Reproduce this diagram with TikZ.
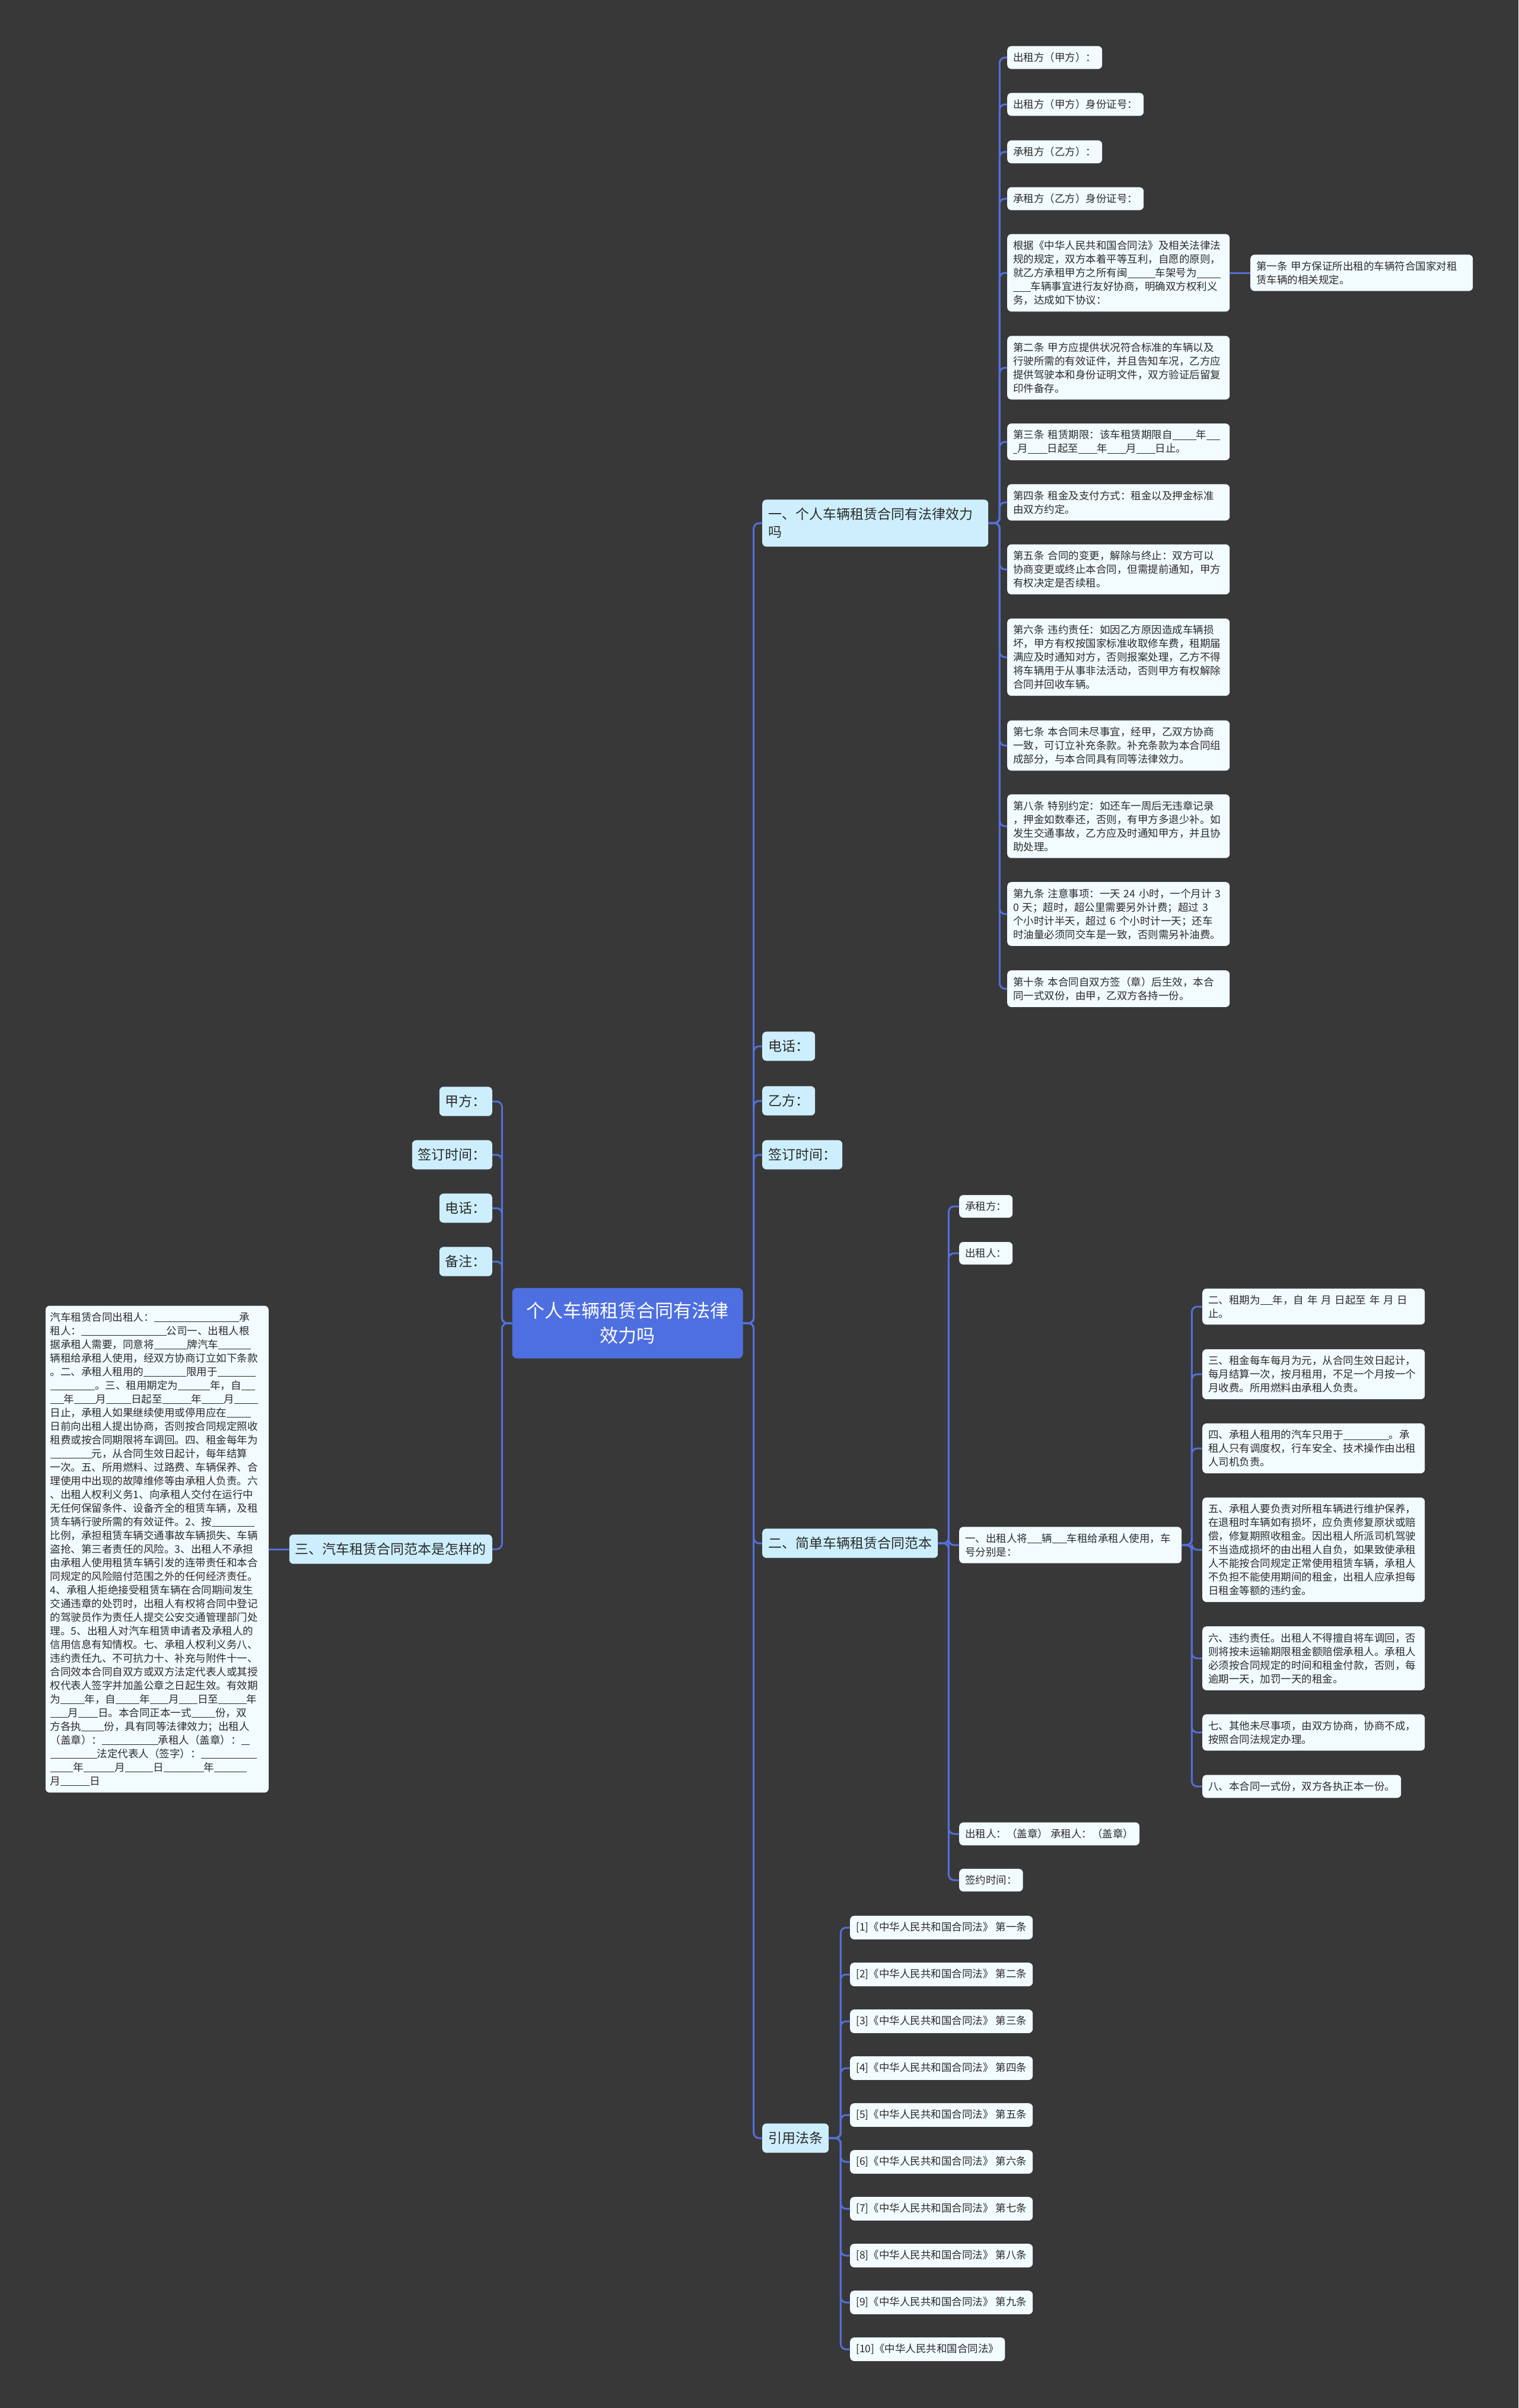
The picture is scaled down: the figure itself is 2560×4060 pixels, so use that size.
\documentclass[tikz,border=0pt]{standalone}
\usepackage{fontspec}
\setmainfont{Noto Sans CJK SC}
\usepackage{xcolor}
\usepackage{tikz}

\definecolor{bgdark}{HTML}{393839}
\definecolor{rootblue}{HTML}{4E6FE0}
\definecolor{topicfill}{HTML}{CDEFFD}
\definecolor{leaffill}{HTML}{F2FBFF}
\definecolor{connblue}{HTML}{5270D8}
\definecolor{textdark}{HTML}{2B2B2B}

\newcommand{\fillin}[1]{\rule[-0.12em]{#1em}{0.06em}}

\tikzset{
  root/.style={fill=rootblue,text=white,rounded corners=8,inner xsep=22,inner ysep=24,
    text width=345,align=center,font=\fontsize{31}{42}\selectfont},
  topic/.style={fill=topicfill,text=textdark,rounded corners=7,inner xsep=10,inner ysep=14,
    align=left,font=\fontsize{23}{30}\selectfont},
  leaf/.style={fill=leaffill,text=textdark,rounded corners=7,inner xsep=10,inner ysep=11,
    align=left,font=\fontsize{17.5}{23}\selectfont},
  wide/.style={leaf,text width=355},
  conn/.style={draw=connblue,line width=3,rounded corners=9}
}

\begin{document}
\begin{tikzpicture}[x=1pt,y=-1pt]
\fill[bgdark](0,0)rectangle(2560,4060);
\useasboundingbox(0,0)rectangle(2560,4060);

% centre
\node[root](root) at (1058,2231){个人车辆租赁合同有法律\\效力吗};

% right side, first level
\node[topic,anchor=west,text width=361](one) at (1285,882){一、个人车辆租赁合同有法律效力\\吗};
\node[topic,anchor=west](tel) at (1285,1764){电话：};
\node[topic,anchor=west](yi) at (1285,1856){乙方：};
\node[topic,anchor=west](sign) at (1285,1947){签订时间：};
\node[topic,anchor=west](two) at (1285,2602){二、简单车辆租赁合同范本};
\node[topic,anchor=west](law) at (1285,3605){引用法条};

% left side, first level
\node[topic,anchor=east](jia) at (830,1857){甲方：};
\node[topic,anchor=east](lsign) at (830,1947){签订时间：};
\node[topic,anchor=east](ltel) at (830,2037){电话：};
\node[topic,anchor=east](note) at (830,2127){备注：};
\node[topic,anchor=east](three) at (830,2612){三、汽车租赁合同范本是怎样的};

% branch one
\node[leaf,anchor=west](lessor) at (1698,97){出租方（甲方）：};
\node[leaf,anchor=west](lessorid) at (1698,176){出租方（甲方）身份证号：};
\node[leaf,anchor=west](lessee) at (1698,256){承租方（乙方）：};
\node[leaf,anchor=west](lesseeid) at (1698,335){承租方（乙方）身份证号：};
\node[wide,anchor=west](preamble) at (1698,460){根据《中华人民共和国合同法》及相关法律法\\规的规定，双方本着平等互利，自愿的原则，\\就乙方承租甲方之所有闽\fillin{2.7}车架号为\fillin{2.3}\\\fillin{1.7}车辆事宜进行友好协商，明确双方权利义\\务，达成如下协议：};
\node[wide,anchor=west](art1) at (2108,460){第一条~甲方保证所出租的车辆符合国家对租\\赁车辆的相关规定。};
\node[wide,anchor=west](art2) at (1698,620){第二条~甲方应提供状况符合标准的车辆以及\\行驶所需的有效证件，并且告知车况，乙方应\\提供驾驶本和身份证明文件，双方验证后留复\\印件备存。};
\node[wide,anchor=west](art3) at (1698,745){第三条~租赁期限：该车租赁期限自\fillin{2.3}年\fillin{1.3}\\\fillin{0.4}月\fillin{1.9}日起至\fillin{1.8}年\fillin{1.8}月\fillin{1.8}日止。};
\node[wide,anchor=west](art4) at (1698,847){第四条~租金及支付方式：租金以及押金标准\\由双方约定。};
\node[wide,anchor=west](art5) at (1698,960){第五条~合同的变更，解除与终止：双方可以\\协商变更或终止本合同，但需提前通知，甲方\\有权决定是否续租。};
\node[wide,anchor=west](art6) at (1698,1108){第六条~违约责任：如因乙方原因造成车辆损\\坏，甲方有权按国家标准收取修车费，租期届\\满应及时通知对方，否则报案处理，乙方不得\\将车辆用于从事非法活动，否则甲方有权解除\\合同并回收车辆。};
\node[wide,anchor=west](art7) at (1698,1257){第七条~本合同未尽事宜，经甲，乙双方协商\\一致，可订立补充条款。补充条款为本合同组\\成部分，与本合同具有同等法律效力。};
\node[wide,anchor=west](art8) at (1698,1393){第八条~特别约定：如还车一周后无违章记录\\，押金如数奉还，否则，有甲方多退少补。如\\发生交通事故，乙方应及时通知甲方，并且协\\助处理。};
\node[wide,anchor=west](art9) at (1698,1541){第九条~注意事项：一天~24~小时，一个月计~3\\0~天；超时，超公里需要另外计费；超过~3\\个小时计半天，超过~6~个小时计一天；还车\\时油量必须同交车是一致，否则需另补油费。};
\node[wide,anchor=west](art10) at (1698,1667){第十条~本合同自双方签（章）后生效，本合\\同一式双份，由甲，乙双方各持一份。};

% branch two
\node[leaf,anchor=west](tlessee) at (1617,2034){承租方：};
\node[leaf,anchor=west](tlessor) at (1617,2113){出租人：};
\node[wide,anchor=west](tfirst) at (1617,2605){一、出租人将\fillin{1.4}辆\fillin{1.4}车租给承租人使用，车\\号分别是：};
\node[leaf,anchor=west](tseal) at (1617,3092){出租人：（盖章）~承租人：（盖章）};
\node[leaf,anchor=west](tdate) at (1617,3170){签约时间：};
\node[wide,anchor=west](ts2) at (2027,2203){二、租期为\fillin{1.2}年，自~年~月~日起至~年~月~日\\止。};
\node[wide,anchor=west](ts3) at (2027,2317){三、租金每车每月为元，从合同生效日起计，\\每月结算一次，按月租用，不足一个月按一个\\月收费。所用燃料由承租人负责。};
\node[wide,anchor=west](ts4) at (2027,2442){四、承租人租用的汽车只用于\fillin{4.4}。承\\租人只有调度权，行车安全、技术操作由出租\\人司机负责。};
\node[wide,anchor=west](ts5) at (2027,2613){五、承租人要负责对所租车辆进行维护保养，\\在退租时车辆如有损坏，应负责修复原状或赔\\偿，修复期照收租金。因出租人所派司机驾驶\\不当造成损坏的由出租人自负，如果致使承租\\人不能按合同规定正常使用租赁车辆，承租人\\不负担不能使用期间的租金，出租人应承担每\\日租金等额的违约金。};
\node[wide,anchor=west](ts6) at (2027,2796){六、违约责任。出租人不得擅自将车调回，否\\则将按未运输期限租金额赔偿承租人。承租人\\必须按合同规定的时间和租金付款，否则，每\\逾期一天，加罚一天的租金。};
\node[wide,anchor=west](ts7) at (2027,2921){七、其他未尽事项，由双方协商，协商不成，\\按照合同法规定办理。};
\node[leaf,anchor=west](ts8) at (2027,3012){八、本合同一式份，双方各执正本一份。};

% cited articles
\foreach \i/\n in {1/一,2/二,3/三,4/四,5/五,6/六,7/七,8/八,9/九}
  \node[leaf,anchor=west](l\i) at (1433,{3250+79*(\i-1)}){[\i]《中华人民共和国合同法》~第\n 条};
\node[leaf,anchor=west](l10) at (1433,3961){[10]《中华人民共和国合同法》};

% branch three
\node[leaf,anchor=east,text width=360,inner xsep=8](sample) at (453,2612){汽车租赁合同出租人：\fillin{8.2}承\\
租人：\fillin{8.2}公司一、出租人根\\
据承租人需要，同意将\fillin{3.2}牌汽车\fillin{3.1}\\
辆租给承租人使用，经双方协商订立如下条款\\
。二、承租人租用的\fillin{4.1}限用于\fillin{3.7}\\
\fillin{4.3}。三、租用期定为\fillin{3.1}年，自\fillin{1.3}\\
\fillin{1.3}年\fillin{2.1}月\fillin{2.4}日起至\fillin{2.8}年\fillin{2.1}月\fillin{2.3}\\
日止，承租人如果继续使用或停用应在\fillin{2.3}\\
日前向出租人提出协商，否则按合同规定照收\\
租费或按合同期限将车调回。四、租金每年为\\
\fillin{4}元，从合同生效日起计，每年结算\\
一次。五、所用燃料、过路费、车辆保养、合\\
理使用中出现的故障维修等由承租人负责。六\\
、出租人权利义务1、向承租人交付在运行中\\
无任何保留条件、设备齐全的租赁车辆，及租\\
赁车辆行驶所需的有效证件。2、按\fillin{4.1}\\
比例，承担租赁车辆交通事故车辆损失、车辆\\
盗抢、第三者责任的风险。3、出租人不承担\\
由承租人使用租赁车辆引发的连带责任和本合\\
同规定的风险赔付范围之外的任何经济责任。\\
4、承租人拒绝接受租赁车辆在合同期间发生\\
交通违章的处罚时，出租人有权将合同中登记\\
的驾驶员作为责任人提交公安交通管理部门处\\
理。5、出租人对汽车租赁申请者及承租人的\\
信用信息有知情权。七、承租人权利义务八、\\
违约责任九、不可抗力十、补充与附件十一、\\
合同效本合同自双方或双方法定代表人或其授\\
权代表人签字并加盖公章之日起生效。有效期\\
为\fillin{2.3}年，自\fillin{2.3}年\fillin{1.8}月\fillin{1.8}日至\fillin{2.7}年\\
\fillin{1.7}月\fillin{1.9}日。本合同正本一式\fillin{2.3}份，双\\
方各执\fillin{2.2}份，具有同等法律效力；出租人\\
（盖章）：\fillin{5.4}承租人（盖章）：\fillin{0.8}\\
\fillin{4.5}法定代表人（签字）：\fillin{5.4}\\
\fillin{2.2}年\fillin{3}月\fillin{2.7}日\fillin{3.9}年\fillin{3.1}\\
月\fillin{2.8}日};

% connectors
\foreach \c in {one,tel,yi,sign,two,law}
  \draw[conn](root.east)--++(18,0)|-(\c.west);
\foreach \c in {jia,lsign,ltel,note,three}
  \draw[conn](root.west)--++(-17,0)|-(\c.east);
\foreach \c in {lessor,lessorid,lessee,lesseeid,preamble,art2,art3,art4,art5,art6,art7,art8,art9,art10}
  \draw[conn](one.east)--++(19,0)|-(\c.west);
\draw[conn](preamble.east)--(art1.west);
\foreach \c in {tlessee,tlessor,tfirst,tseal,tdate}
  \draw[conn](two.east)--++(18,0)|-(\c.west);
\foreach \c in {ts2,ts3,ts4,ts5,ts6,ts7,ts8}
  \draw[conn](tfirst.east)--++(17,0)|-(\c.west);
\foreach \i in {1,...,10}
  \draw[conn](law.east)--++(20,0)|-(l\i.west);
\draw[conn](three.west)--(sample.east);
\end{tikzpicture}
\end{document}
